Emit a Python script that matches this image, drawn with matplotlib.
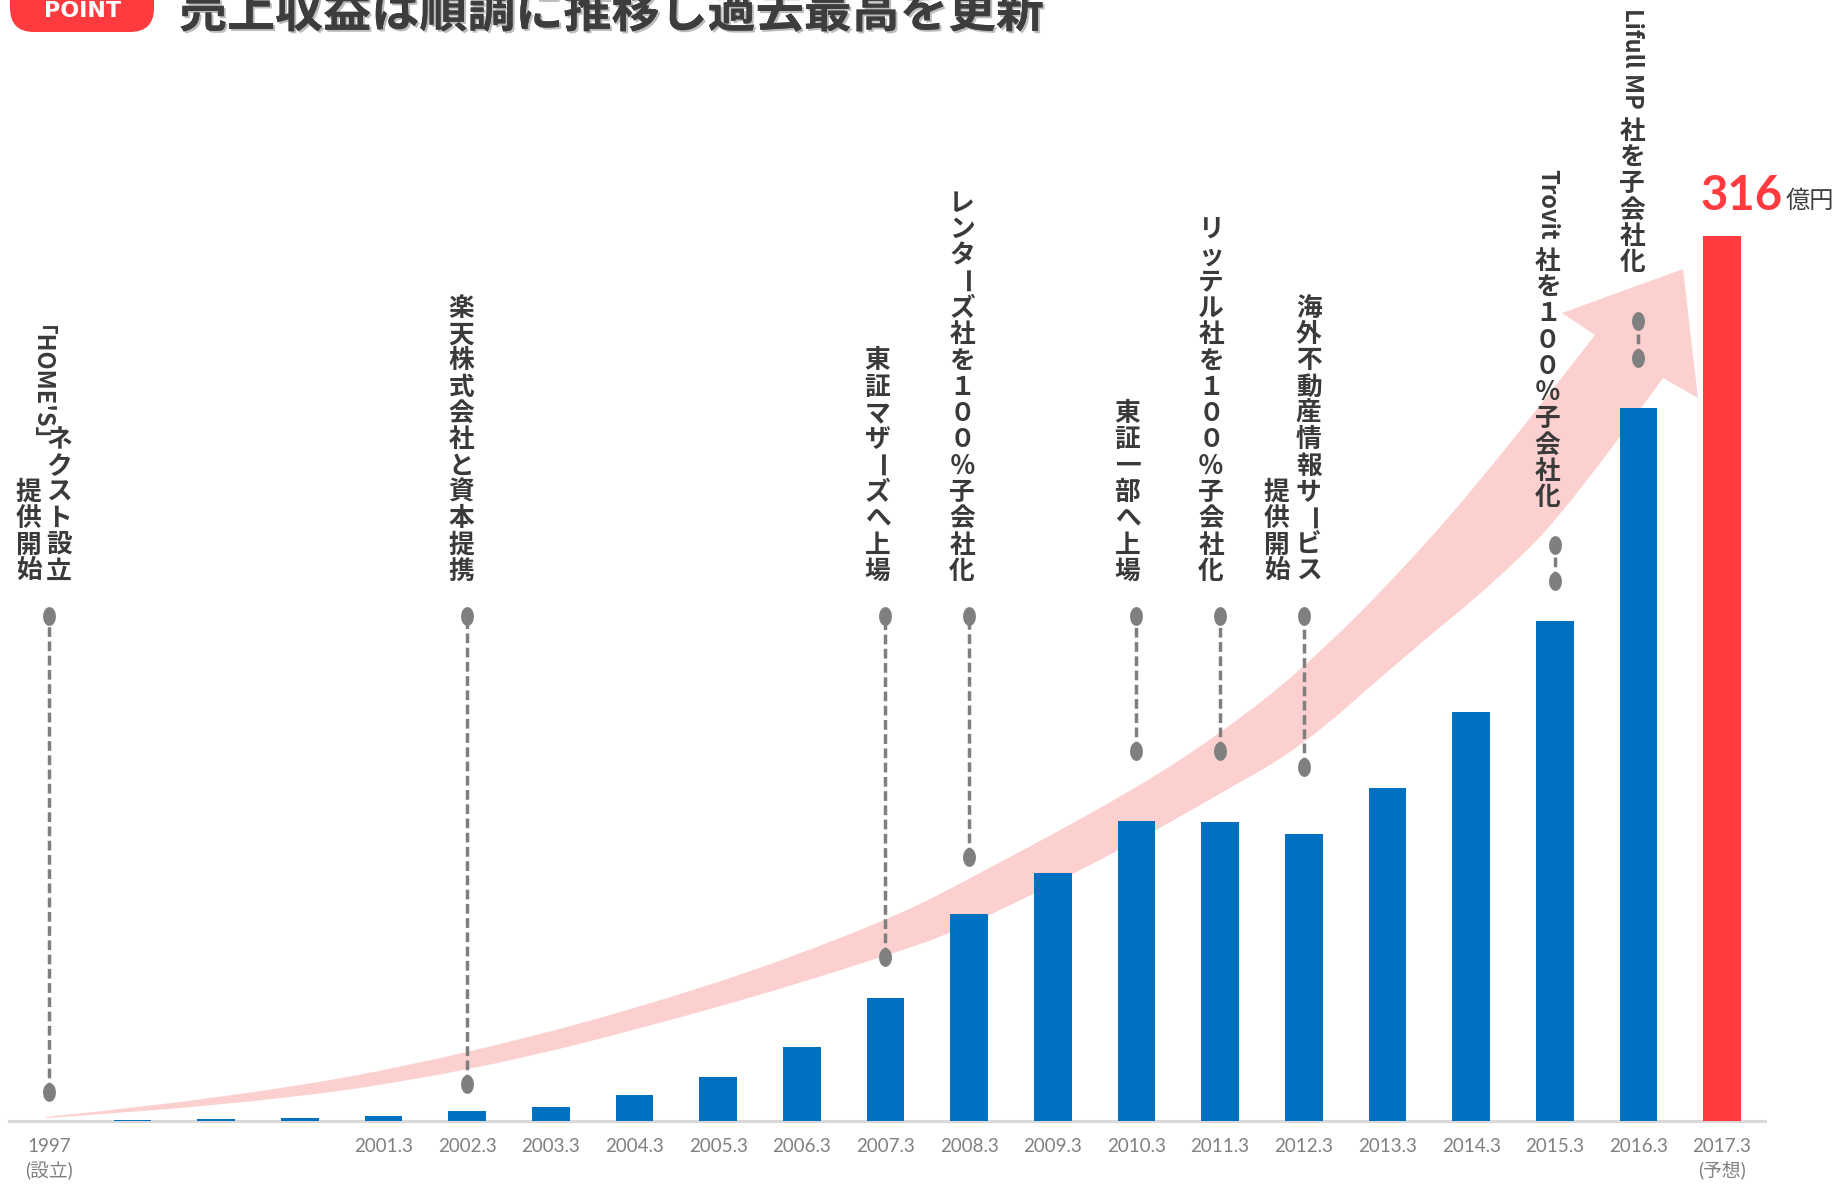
import numpy as np
import matplotlib
matplotlib.use('Agg')
import matplotlib.pyplot as plt
from matplotlib.path import Path
from matplotlib.patches import PathPatch, FancyBboxPatch
from matplotlib.transforms import IdentityTransform
from matplotlib.markers import MarkerStyle
import matplotlib.patheffects as pe

plt.rcParams['font.family'] = ['Noto Sans CJK JP', 'DejaVu Sans']

# ---------------- data ----------------
tick_labels = ['1997\n(設立)', '', '', '', '2001.3', '2002.3', '2003.3', '2004.3',
               '2005.3', '2006.3', '2007.3', '2008.3', '2009.3', '2010.3', '2011.3',
               '2012.3', '2013.3', '2014.3', '2015.3', '2016.3', '2017.3\n(予想)']
revenue = [0.0, 0.3, 0.6, 1.0, 1.8, 3.7, 5.1, 9.4, 15.6, 26.5, 44.0, 73.8, 88.7,
           107.1, 106.6, 102.6, 119.0, 146.2, 178.6, 254.5, 316.0]
is_forecast = [False] * 20 + [True]
highlight_value = '316'
highlight_unit = '億円'
title = '売上収益は順調に推移し過去最高を更新'
badge = 'POINT'

event_index = [0, 5, 10, 11, 13, 14, 15, 18, 19]
event_columns = [
    ['ネクスト設立', '「HOME\'S」提供開始'],
    ['楽天株式会社と資本提携'],
    ['東証マザーズへ上場'],
    ['レンターズ社を１００％子会社化'],
    ['東証一部へ上場'],
    ['リッテル社を１００％子会社化'],
    ['海外不動産情報サービス', '提供開始'],
    ['Trovit 社を１００％子会社化'],
    ['Lifull MP 社を子会社化'],
]

# ---------------- layout / style ----------------
W, H = 1841, 1188
col_dx = [[10, -20.5], [-6], [-8], [-7], [-9], [-9], [5, -27], [-7], [-6]]
col_gap = [[8, 14], [8], [8], [8], [8], [8], [8, 8], [8], [9]]
text_bottom = [584.5] * 7 + [511, 276]           # px from top
pin_top = [180.3] * 7 + [205.7, 285.7]            # data units
pin_bottom = [10.4, 13.2, 58.6, 94.3, 132.1, 132.1, 126.4, 192.8, 272.4]

BLUE = '#0070C0'
RED = '#FF3B3F'
PINK = '#FDD0D0'
PIN = '#7F7F7F'
TXT = '#3A3A3A'
ADV = 26.3   # px per vertical character cell
FS = 18.5    # CJK annotation size
FSL = 17.0   # rotated latin run size

fig = plt.figure(figsize=(W / 100, H / 100), dpi=100)
ax = fig.add_axes([9 / W, (H - 1121) / H, (1765 - 9) / W, 1121 / H])
ax.set_xlim(-0.478, 20.514)
ax.set_ylim(0, 1121 / 2.8006)

x = np.arange(len(revenue))

# ---- arrow (decorative band) ----
upper = [(45, 1117), (235, 1098), (470, 1054), (704, 989), (884, 922), (968, 880),
         (1134, 790), (1221, 733), (1302, 670), (1400, 573), (1500, 458), (1595, 335)]
head = [(1562, 313), (1683, 269), (1698, 398), (1663, 378)]
lower = [(1663, 378), (1573, 503), (1500, 578), (1400, 660), (1302, 747), (1221, 793),
         (1134, 843), (968, 927), (884, 957), (704, 1012), (470, 1072), (235, 1106), (45, 1118)]


def smooth_segments(pts):
    verts, codes = [], []
    for i in range(1, len(pts) - 1):
        if i == len(pts) - 2:
            end = pts[-1]
        else:
            end = ((pts[i][0] + pts[i + 1][0]) / 2, (pts[i][1] + pts[i + 1][1]) / 2)
        verts += [pts[i], end]
        codes += [Path.CURVE3, Path.CURVE3]
    return verts, codes


verts = [upper[0]]
codes = [Path.MOVETO]
v, c = smooth_segments(upper)
verts += v; codes += c
for p in head:
    verts.append(p); codes.append(Path.LINETO)
v, c = smooth_segments(lower)
verts += v; codes += c
verts.append(upper[0]); codes.append(Path.CLOSEPOLY)
disp = np.array([(px, H - py) for px, py in verts])
data = ax.transData.inverted().transform(disp)
ax.add_patch(PathPatch(Path(data, codes), facecolor=PINK, edgecolor='none', zorder=1))

# ---- bars ----
colors = [RED if f else BLUE for f in is_forecast]
ax.bar(x, revenue, width=0.45, color=colors, edgecolor='none', zorder=3)

# ---- pins ----
th = np.linspace(0, 2 * np.pi, 40)
ell = MarkerStyle(Path(np.column_stack([0.33 * np.cos(th), 0.5 * np.sin(th)])))
for i, idx in enumerate(event_index):
    ax.plot([idx, idx], [pin_bottom[i], pin_top[i]], color=PIN, lw=2.5,
            dashes=(2.8, 1.3), zorder=4, solid_capstyle='butt')
    ax.plot([idx, idx], [pin_bottom[i], pin_top[i]], ls='none', marker=ell,
            markersize=12.5, color=PIN, zorder=5)

# ---- axes styling ----
for s in ['top', 'left', 'right']:
    ax.spines[s].set_visible(False)
ax.spines['bottom'].set_color('#D9D9D9')
ax.spines['bottom'].set_linewidth(2.2)
ax.set_yticks([])
ax.set_xticks(x)
ax.set_xticklabels(tick_labels, color='#808080', fontsize=13.5,
                   family=['Lato', 'Noto Sans CJK JP'])
for lbl in ax.get_xticklabels():
    lbl.set_linespacing(1.4)
ax.tick_params(axis='x', length=0, pad=12.5)
ax.set_facecolor('none')

# ---- vertical annotation text ----
renderer = fig.canvas.get_renderer()


def is_rot(ch):
    return ord(ch) < 0x2000 or ch in '「」'


def split_runs(s):
    runs = []
    for ch in s:
        r = is_rot(ch)
        if runs and runs[-1][0] == r:
            runs[-1][1] += ch
        else:
            runs.append([r, ch])
    return [(r, t.strip() if r else t) for r, t in runs]


def draw_column(xd, bottom_px, s, gap):
    y = H - bottom_px
    for rot, t in reversed(split_runs(s)):
        if rot:
            tmp = fig.text(0, 0, t, transform=IdentityTransform(), fontsize=FSL,
                           fontweight='bold')
            length = tmp.get_window_extent(renderer).width
            tmp.remove()
            y += gap
            top = y + length
            fig.text(xd, top, t, rotation=-90, rotation_mode='anchor',
                     ha='left', va='center', transform=IdentityTransform(),
                     fontsize=FSL, fontweight='bold', color=TXT)
            y = top
        else:
            for ch in reversed(t):
                cy = y + ADV / 2
                kw = dict(transform=IdentityTransform(), fontsize=FS,
                          fontweight='bold', color=TXT, ha='center', va='center')
                if ch == 'ー':
                    fig.text(xd, cy, ch, rotation=-90, **kw)
                else:
                    fig.text(xd, cy, ch, **kw)
                y += ADV


for i, idx in enumerate(event_index):
    xc = ax.transData.transform((idx, 0))[0]
    for j, s in enumerate(event_columns[i]):
        draw_column(xc + col_dx[i][j], text_bottom[i], s, col_gap[i][j])

# ---- highlight value ----
xr = ax.transData.transform((x[-1], 0))[0]
fig.text(xr + 61, H - 210, highlight_value, transform=IdentityTransform(),
         ha='right', va='baseline', fontsize=34, fontweight='bold', color=RED,
         family=['Lato', 'DejaVu Sans'])
fig.text(xr + 64, H - 208, highlight_unit, transform=IdentityTransform(),
         ha='left', va='baseline', fontsize=17.5, color='#404040')

# ---- title + badge ----
fig.add_artist(FancyBboxPatch((10, H - 32), 144, 70,
                              boxstyle='round,pad=0,rounding_size=24',
                              transform=IdentityTransform(), facecolor=RED,
                              edgecolor='none'))
fig.text(83, H - 17, badge, transform=IdentityTransform(), ha='center',
         va='baseline', fontsize=16, fontweight='bold', color='white',
         family=['DejaVu Sans'])
fig.text(179, H - 27, title, transform=IdentityTransform(), ha='left',
         va='baseline', fontsize=34.6, fontweight='bold', color='#3D3D3D',
         path_effects=[pe.withSimplePatchShadow(offset=(1.5, -1.5),
                                                shadow_rgbFace='#BBBBBB', alpha=1),
                       pe.Normal()])

fig.savefig('out.png', dpi=100, facecolor='white')
